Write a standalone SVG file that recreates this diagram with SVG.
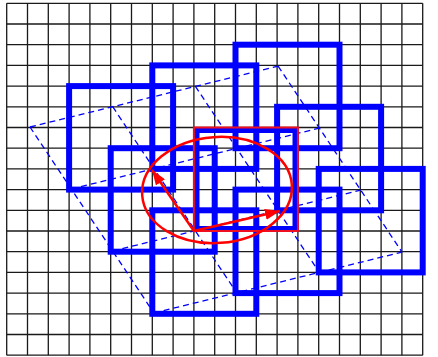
<svg xmlns="http://www.w3.org/2000/svg" width="438" height="357" viewBox="0 0 438 357">
<defs>
<style>
.grid{stroke:#1a1a1a;stroke-width:1.3;fill:none}
.sq{fill:none;stroke:#0000ff;stroke-width:6}
.dash{fill:none;stroke:#0000ff;stroke-width:1.3;stroke-dasharray:6 4}
.red{fill:none;stroke:#ff0000;stroke-width:2.5}
.redsq{fill:none;stroke:#ee1020;stroke-width:2}
</style>
<marker id="ah" viewBox="0 0 10 10" refX="10" refY="5" markerWidth="15" markerHeight="11" markerUnits="userSpaceOnUse" orient="auto" preserveAspectRatio="none">
<path d="M0,0 L10,5 L0,10 z" fill="#ff0000"/>
</marker>
</defs>
<rect width="438" height="357" fill="#ffffff"/>
<g id="grid" class="grid">
<path d="M6.7,3.3V355.2M27.5,3.3V355.2M48.3,3.3V355.2M69.1,3.3V355.2M89.9,3.3V355.2M110.7,3.3V355.2M131.5,3.3V355.2M152.3,3.3V355.2M173.1,3.3V355.2M193.9,3.3V355.2M214.7,3.3V355.2M235.5,3.3V355.2M256.3,3.3V355.2M277.1,3.3V355.2M297.9,3.3V355.2M318.7,3.3V355.2M339.5,3.3V355.2M360.3,3.3V355.2M381.1,3.3V355.2M401.9,3.3V355.2M422.7,3.3V355.2"/>
<path d="M6.7,3.3H422.7M6.7,24H422.7M6.7,44.7H422.7M6.7,65.4H422.7M6.7,86.1H422.7M6.7,106.8H422.7M6.7,127.5H422.7M6.7,148.2H422.7M6.7,168.9H422.7M6.7,189.6H422.7M6.7,210.3H422.7M6.7,231H422.7M6.7,251.7H422.7M6.7,272.4H422.7M6.7,293.1H422.7M6.7,313.8H422.7M6.7,334.5H422.7M6.7,355.2H422.7"/>
</g>
<g id="dashed-grid" class="dash">
<path d="M30,127L278.1,66.1M71.3,189L319.4,128.1M112.6,251L360.7,190.1M153.9,313L402,252.1"/>
<path d="M30,127L153.9,313M112.7,106.7L236.6,292.7M195.4,86.4L319.3,272.4M278.1,66.1L402,252.1"/>
</g>
<g id="sq-a"><rect class="sq" x="69.1" y="86.1" width="104" height="103.5"/></g>
<g id="sq-b"><rect class="sq" x="152.3" y="65.4" width="104" height="103.5"/></g>
<g id="sq-c"><rect class="sq" x="235.5" y="44.7" width="104" height="103.5"/></g>
<g id="sq-d"><rect class="sq" x="110.7" y="148.2" width="104" height="103.5"/></g>
<g id="sq-e"><rect class="sq" x="196.5" y="130" width="99" height="99"/></g>
<g id="sq-f"><rect class="sq" x="277.1" y="106.8" width="104" height="103.5"/></g>
<g id="sq-g"><rect class="sq" x="152.3" y="210.3" width="104" height="103.5"/></g>
<g id="sq-h"><rect class="sq" x="235.5" y="189.6" width="104" height="103.5"/></g>
<g id="sq-i"><rect class="sq" x="318.7" y="168.9" width="104" height="103.5"/></g>
<g id="red-square"><rect class="redsq" x="193.9" y="127.5" width="104" height="103.5"/></g>
<g id="red-region"><ellipse class="red" cx="217" cy="190" rx="75" ry="53" transform="rotate(-4 217 190)"/></g>
<g id="connectors">
<line class="red" x1="193.9" y1="231" x2="152" y2="170" marker-end="url(#ah)"/>
<line class="red" x1="193.9" y1="231" x2="280" y2="211" marker-end="url(#ah)"/>
</g>
</svg>
